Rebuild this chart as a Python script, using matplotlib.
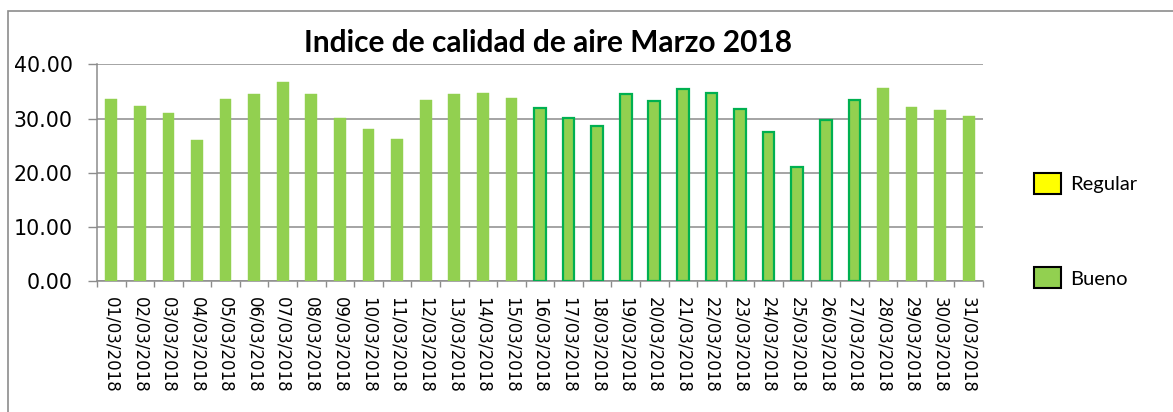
import numpy as np
import matplotlib
matplotlib.use("Agg")
from matplotlib import pyplot as plt
from matplotlib.patches import Patch, Rectangle

# Daily air quality index, March 2018
dates = ["%02d/03/2018" % d for d in range(1, 32)]
values = [33.55, 32.38, 30.97, 26.05, 33.61, 34.53, 36.74, 34.47, 30.17, 28.14,
          26.24, 33.43, 34.53, 34.72, 33.86, 31.89, 30.17, 28.63, 34.47, 33.30,
          35.45, 34.65, 31.83, 27.59, 21.14, 29.68, 33.36, 35.64, 32.07, 31.52,
          30.41]
legend_labels = ["Regular", "Bueno"]
legend_colors = ["#FFFF00", "#92D050"]

# days drawn with a dark green outline (16/03 - 27/03)
outlined = range(15, 27)

fig = plt.figure(figsize=(11.73, 4.12), dpi=100)
ax = fig.add_axes([0.0827, 0.3172, 0.7553, 0.5268])

x = np.arange(len(values))
edges = ["#00B050" if i in outlined else "#92D050" for i in x]
lws = [1.6 if i in outlined else 0.3 for i in x]
ax.bar(x, values, width=0.41, color="#92D050", edgecolor=edges, linewidth=lws, zorder=3)

ax.set_xlim(-0.5, len(values) - 0.5)
ax.set_ylim(0, 40)
ax.set_yticks(np.arange(0, 41, 10))
ax.set_yticklabels(["%.2f" % v for v in np.arange(0, 41, 10)], fontsize=14.8,
                   family="DejaVu Sans")
ax.yaxis.grid(True, color="#8C8C8C", linewidth=1.1, zorder=0)
ax.tick_params(axis="y", length=6.5, width=1.0, color="#8C8C8C", pad=11)

# category ticks between bars, labels under bars
ax.set_xticks(np.arange(-0.5, len(values), 1.0))
ax.set_xticklabels([])
ax.set_xticks(x, minor=True)
ax.set_xticklabels(dates, minor=True, rotation=270, fontsize=12, family="DejaVu Sans",
                   ha="center", va="top")
ax.tick_params(axis="x", which="major", length=4, width=1.0, color="#8C8C8C")
ax.tick_params(axis="x", which="minor", length=0, pad=11)

for side in ["top", "right"]:
    ax.spines[side].set_visible(False)
for side in ["left", "bottom"]:
    ax.spines[side].set_color("#8C8C8C")
    ax.spines[side].set_linewidth(1.1)

fig.text(0.467, 0.895, "Indice de calidad de aire Marzo 2018", ha="center", va="center",
         fontsize=21.5, fontweight="bold", family="Lato")

handles = [Patch(facecolor=c, edgecolor="black", linewidth=1.5) for c in legend_colors]
leg = fig.legend(handles, legend_labels, loc="center left", bbox_to_anchor=(0.866, 0.44),
                 frameon=False, prop={"family": "Lato", "size": 14.5},
                 handlelength=1.34, handleheight=1.2, labelspacing=3.65, handletextpad=0.45)

# outer chart frame
fig.patches.append(Rectangle((7.5 / 1173, -0.1), 1.2, 1.1 - 11.5 / 412 + 0.0,
                             transform=fig.transFigure, fill=False,
                             edgecolor="#8C8C8C", linewidth=1.2))

fig.savefig("out.png", dpi=100)
